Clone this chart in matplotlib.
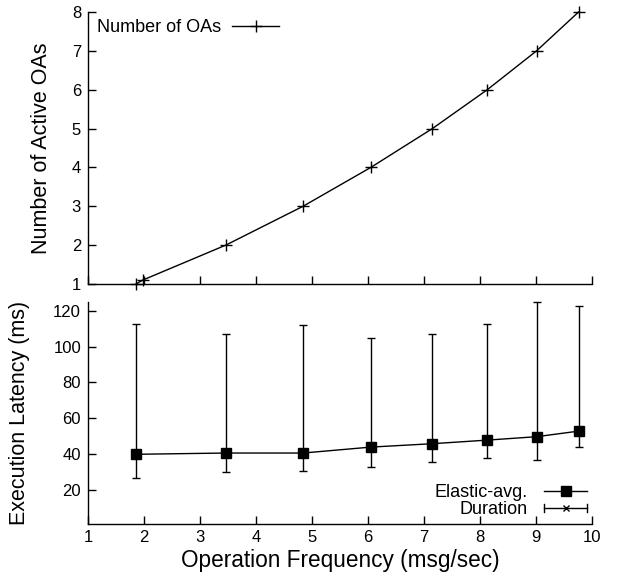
import matplotlib
matplotlib.use("Agg")
import matplotlib.pyplot as plt
from matplotlib.legend_handler import HandlerBase
from matplotlib.lines import Line2D

plt.rcParams['font.family'] = ['Liberation Sans', 'DejaVu Sans']

# Top panel: number of active OAs
oa_freq = [1.857, 1.976, 3.46, 4.84, 6.05, 7.15, 8.13, 9.01, 9.76]
oa_count = [1, 1.1, 2, 3, 4, 5, 6, 7, 8]

# Bottom panel: latency
lat_freq = [1.857, 3.46, 4.84, 6.05, 7.15, 8.13, 9.01, 9.76]
lat_avg = [40.0, 40.7, 40.7, 44.0, 45.9, 47.9, 49.8, 52.9]
lat_max = [112.6, 106.9, 111.9, 104.7, 106.9, 112.6, 124.6, 122.8]
lat_min = [27.0, 30.0, 30.9, 32.9, 35.9, 37.9, 36.8, 44.0]

xticks = [1, 2, 3, 4, 5, 6, 7, 8, 9, 10]
top_yticks = [1, 2, 3, 4, 5, 6, 7, 8]
bot_yticks = [20, 40, 60, 80, 100, 120]

W, H = 618, 581
fig = plt.figure(figsize=(W / 100, H / 100), dpi=100)

left = 88 / W
width = 504 / W
ax1 = fig.add_axes([left, 1 - 284 / H, width, 272 / H])
ax2 = fig.add_axes([left, 1 - 524.3 / H, width, 222.6 / H])

for ax in (ax1, ax2):
    ax.spines['top'].set_visible(False)
    ax.spines['right'].set_visible(False)
    for s in ('left', 'bottom'):
        ax.spines[s].set_linewidth(1.0)
    ax.tick_params(direction='in', length=6, width=1, labelsize=12, pad=5)
    ax.set_xlim(1, 10)
    ax.set_xticks(xticks)

ax1.plot(oa_freq, oa_count, color='black', lw=1, marker='+', ms=8, mew=1,
         label='Number of OAs', clip_on=False)
ax1.set_ylim(1, 8)
ax1.set_yticks(top_yticks)
ax1.tick_params(axis='x', labelbottom=False)
ax1.set_ylabel('Number of Active OAs', fontsize=15.5)
ax1.yaxis.set_label_coords(-0.072, 0.5)
ax1.legend(loc='upper left', frameon=False, markerfirst=False, fontsize=13,
           handlelength=2.6, borderaxespad=0.0, bbox_to_anchor=(0.004, 1.0),
           handletextpad=0.6)

yerr_lo = [a - b for a, b in zip(lat_avg, lat_min)]
yerr_hi = [b - a for a, b in zip(lat_avg, lat_max)]
ax2.errorbar(lat_freq, lat_avg, yerr=[yerr_lo, yerr_hi], fmt='none',
             ecolor='black', elinewidth=1, capsize=3, capthick=1, clip_on=False)
ax2.plot(lat_freq, lat_avg, color='black', lw=1, marker='s', ms=7)
ax2.set_ylim(1, 125)
ax2.set_yticks(bot_yticks)
ax2.set_ylabel('Execution Latency (ms)', fontsize=15.5)
ax2.yaxis.set_label_coords(-0.115, 0.5)
ax2.set_xlabel('Operation Frequency (msg/sec)', fontsize=16.3, labelpad=3)
ax2.tick_params(axis='x', pad=4)


class ErrHandler(HandlerBase):
    def create_artists(self, legend, orig_handle, xdescent, ydescent, width,
                       height, fontsize, trans):
        y = height / 2 - ydescent
        x0, x1 = -xdescent, width - xdescent
        ln = Line2D([x0, x1], [y, y], color='black', lw=1, transform=trans)
        c1 = Line2D([x0, x0], [y - 3, y + 3], color='black', lw=1, transform=trans)
        c2 = Line2D([x1, x1], [y - 3, y + 3], color='black', lw=1, transform=trans)
        m = Line2D([(x0 + x1) / 2], [y], marker='x', ms=5, mew=1, color='black',
                   transform=trans)
        return [ln, c1, c2, m]


class ErrKey:
    pass


h1 = Line2D([], [], color='black', lw=1, marker='s', ms=7)
h2 = ErrKey()
ax2.legend([h1, h2], ['Elastic-avg.', 'Duration'], handler_map={ErrKey: ErrHandler()},
           loc='lower right', frameon=False, markerfirst=False, fontsize=13,
           handlelength=2.4, labelspacing=0.0, borderaxespad=0.0,
           bbox_to_anchor=(1.005, -0.006), handletextpad=0.9)

fig.savefig('out.png', dpi=100)
